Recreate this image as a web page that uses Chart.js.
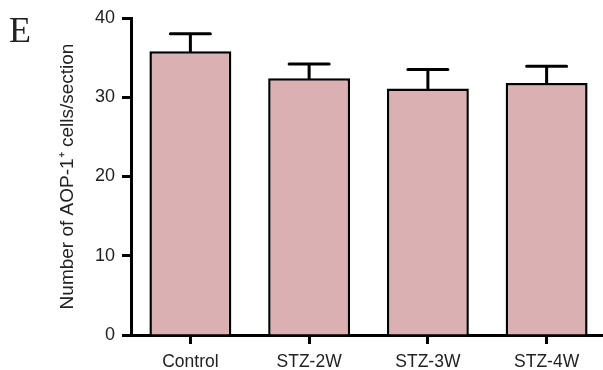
<!DOCTYPE html>
<html>
<head>
  <script src="https://cdn.jsdelivr.net/npm/chart.js"></script>
  <style>
    html, body { margin: 0; padding: 0; background: #fff; overflow: hidden; }
    #wrap { width: 610px; height: 370px; }
  </style>
</head>
<body>
  <div id="wrap"><canvas id="chart"></canvas></div>
  <script>
    const groups = ['Control', 'STZ-2W', 'STZ-3W', 'STZ-4W'];
    const means = [35.8, 32.4, 31.1, 31.8];
    const upperErr = [38.0, 34.2, 33.5, 33.9];
    const yTicks = [0, 10, 20, 30, 40];

    // draws the upward error bars from the library's own scales
    const errorBars = {
      id: 'errorBars',
      afterDatasetsDraw(chart) {
        const ctx = chart.ctx;
        const y = chart.scales.y;
        const meta = chart.getDatasetMeta(0);
        ctx.save();
        ctx.strokeStyle = '#000';
        ctx.lineWidth = 3;
        ctx.lineCap = 'round';
        meta.data.forEach((bar, i) => {
          const top = y.getPixelForValue(upperErr[i]);
          const base = y.getPixelForValue(means[i]);
          ctx.beginPath();
          ctx.moveTo(bar.x, base);
          ctx.lineTo(bar.x, top);
          ctx.moveTo(bar.x - 20, top);
          ctx.lineTo(bar.x + 20, top);
          ctx.stroke();
        });
        ctx.restore();
      }
    };

    const panelLetter = {
      id: 'panelLetter',
      afterDraw(chart) {
        const ctx = chart.ctx;
        ctx.save();
        ctx.fillStyle = '#222';
        ctx.font = '36px "Liberation Serif", "Times New Roman", serif';
        ctx.textBaseline = 'alphabetic';
        ctx.fillText('E', 9, 42);
        ctx.restore();
      }
    };

    new Chart(document.getElementById('chart'), {
      type: 'bar',
      data: {
        labels: groups,
        datasets: [{
          data: means,
          backgroundColor: '#dbb0b2',
          borderColor: '#000',
          borderWidth: 2.5,
          borderSkipped: 'bottom',
          barPercentage: 1,
          categoryPercentage: 0.69
        }]
      },
      options: {
        responsive: true,
        maintainAspectRatio: false,
        animation: false,
        layout: { padding: { left: 56, top: 18, right: 4, bottom: 0 } },
        plugins: { legend: { display: false }, tooltip: { enabled: false } },
        scales: {
          x: {
            grid: { offset: false, drawOnChartArea: false, drawTicks: true, tickLength: 9, tickWidth: 3, tickColor: '#000' },
            border: { display: true, width: 3, color: '#000' },
            ticks: { color: '#222', font: { family: 'Liberation Sans, Arial', size: 17.5 }, padding: 8 },
            afterFit(scale) { scale.height = 35; }
          },
          y: {
            min: 0,
            max: 40,
            afterBuildTicks(scale) { scale.ticks = yTicks.map(v => ({ value: v })); },
            grid: { drawOnChartArea: false, drawTicks: true, tickLength: 9, tickWidth: 3, tickColor: '#000' },
            border: { display: true, width: 3, color: '#000' },
            ticks: { color: '#222', font: { family: 'Liberation Sans, Arial', size: 18 }, padding: 7 },
            title: {
              display: true,
              text: 'Number of AOP-1\u207A cells/section',
              color: '#222',
              font: { family: 'Liberation Sans, Arial', size: 19 },
              padding: 0
            },
            afterFit(scale) { scale.width = 75; }
          }
        }
      },
      plugins: [errorBars, panelLetter]
    });
  </script>
</body>
</html>
